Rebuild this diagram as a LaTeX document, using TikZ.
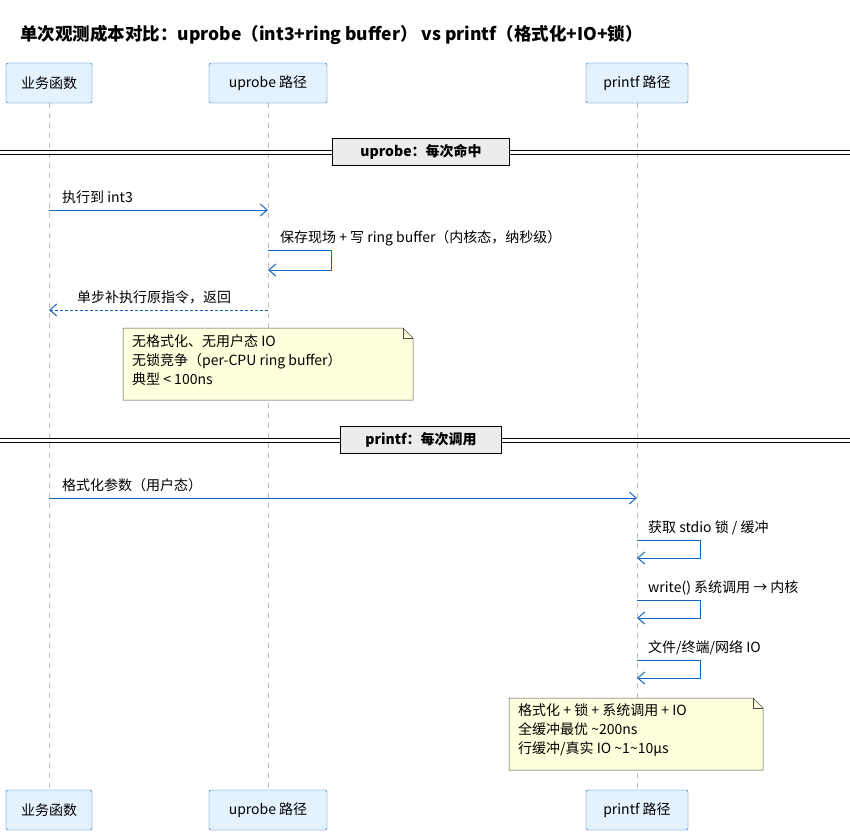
\documentclass[tikz,border=0pt]{standalone}
\usepackage{fontspec}
\setmainfont{Noto Sans CJK SC}
\usetikzlibrary{arrows.meta}
\definecolor{ac}{HTML}{1565C0}
\definecolor{pf}{HTML}{E3F2FD}
\definecolor{nf}{HTML}{FFFFDD}
\begin{document}
\begin{tikzpicture}[x=1pt,y=-1pt,
  part/.style={draw=ac,fill=pf,rounded corners=2pt,minimum height=40pt,inner xsep=6pt,font=\fontsize{14}{16}\selectfont},
  msg/.style={draw=ac,line width=1pt,-{Straight Barb[length=7pt,width=12pt]}},
  lbl/.style={anchor=base west,inner sep=0pt,font=\fontsize{14}{19}\selectfont},
  life/.style={draw=gray!50,dash pattern=on 5pt off 5pt,line width=0.6pt},
  div/.style={draw=black,line width=1.6pt,fill=gray!15,inner ysep=6pt,font=\bfseries\fontsize{14}{16}\selectfont}]
\useasboundingbox (0,0) rectangle (850,838);
\fill[white] (0,0) rectangle (850,838);
\node[anchor=base west,inner sep=0pt,font=\bfseries\fontsize{17.5}{20}\selectfont] (title) at (20,40) {单次观测成本对比：uprobe（int3+ring buffer） vs printf（格式化+IO+锁）};
\foreach \n/\x/\t/\w in {a/49/业务函数/86,b/268/uprobe 路径/118,c/637/printf 路径/102}{
  \draw[life] (\x,103) -- (\x,790);
  \node[part,minimum width=\w pt] (\n top) at (\x,83) {\t};
  \node[part,minimum width=\w pt] (\n bot) at (\x,810) {\t};
}
\foreach \y/\t/\nm/\w in {152/uprobe：每次命中/d1/177,440/printf：每次调用/d2/161}{
  \draw[line width=0.8pt] (0,\y-2) -- (850,\y-2) (0,\y+2) -- (850,\y+2);
  \node[div,minimum width=\w pt] (\nm) at (421,\y) {\t};
}
\coordinate (a1) at (49,210); \coordinate (b1) at (268,210);
\draw[msg] (a1) -- (b1);
\node[lbl] (l1) at (62,202) {执行到 int3};
\coordinate (s1) at (268,250); \coordinate (s1e) at (268,270);
\draw[msg] (s1) -- (331,250) -- (331,270) -- (s1e);
\node[lbl] (l2) at (280,242) {保存现场 + 写 ring buffer（内核态，纳秒级）};
\coordinate (r1) at (268,310); \coordinate (r2) at (49,310);
\draw[msg,dash pattern=on 3pt off 2pt] (r1) -- (r2);
\node[lbl] (l3) at (77,302) {单步补执行原指令，返回};
\draw[fill=nf,draw=black!70,line width=0.5pt] (123,328) -- (403,328) -- (413,338) -- (413,400) -- (123,400) -- cycle;
\draw[draw=black!70,line width=0.5pt] (403,328) -- (403,338) -- (413,338);
\node[lbl,align=left,anchor=north west] (n1) at (132,334) {无格式化、无用户态 IO\\无锁竞争（per-CPU ring buffer）\\典型 < 100ns};
\coordinate (a2) at (49,498); \coordinate (c2) at (637,498);
\draw[msg] (a2) -- (c2);
\node[lbl] (l4) at (62,490) {格式化参数（用户态）};
\foreach \y/\t in {540/{获取 stdio 锁 / 缓冲},600/{write() 系统调用 → 内核},660/{文件/终端/网络 IO}}{
  \draw[msg] (637,\y) -- (700,\y) -- (700,\y+18) -- (637,\y+18);
  \node[lbl] at (648,\y-8) {\t};
}
\draw[fill=nf,draw=black!70,line width=0.5pt] (509,698) -- (753,698) -- (763,708) -- (763,770) -- (509,770) -- cycle;
\draw[draw=black!70,line width=0.5pt] (753,698) -- (753,708) -- (763,708);
\node[lbl,align=left,anchor=north west] (n2) at (518,703) {格式化 + 锁 + 系统调用 + IO\\全缓冲最优 \textasciitilde200ns\\行缓冲/真实 IO \textasciitilde1\textasciitilde10μs};
\end{tikzpicture}
\end{document}
